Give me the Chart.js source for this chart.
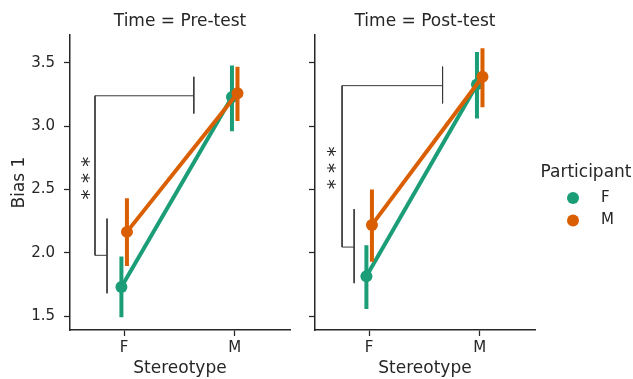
<!DOCTYPE html>
<html>
<head>
<meta charset="utf-8">
<script src="https://cdn.jsdelivr.net/npm/chart.js@4.4.1/dist/chart.umd.min.js"></script>
<style>
  html, body { margin: 0; padding: 0; background: #fff; }
  #wrap { position: relative; width: 633px; height: 379px; overflow: hidden; }
  canvas { position: absolute; top: 0; }
</style>
</head>
<body>
<div id="wrap">
  <canvas id="preChart" width="300" height="379" style="left:0"></canvas>
  <canvas id="postChart" width="333" height="379" style="left:300px"></canvas>
</div>
<script>
// categories
const stereotypes = ["F", "M"];
const participants = ["F", "M"];
const yTicks = [1.5, 2.0, 2.5, 3.0, 3.5];
const panelTitles = ["Time = Pre-test", "Time = Post-test"];

// pre-test, participant F / M (mean and CI per stereotype)
const preMeanF = [1.73, 3.23];
const preLoF = [1.49, 2.96];
const preHiF = [1.97, 3.48];
const preMeanM = [2.165, 3.26];
const preLoM = [1.895, 3.04];
const preHiM = [2.43, 3.47];

// post-test
const postMeanF = [1.815, 3.33];
const postLoF = [1.555, 3.06];
const postHiF = [2.06, 3.585];
const postMeanM = [2.22, 3.39];
const postLoM = [1.93, 3.15];
const postHiM = [2.50, 3.615];

// significance brackets (data coords), null = break
const preBracket = [[0.63, 3.39], [0.63, 3.10], [0.63, null], [0.63, 3.24], [-0.264, 3.24], [-0.264, 1.98], [-0.155, 1.98], [-0.155, null], [-0.155, 2.27], [-0.155, 1.68]];
const postBracket = [[0.664, 3.47], [0.664, 3.18], [0.664, null], [0.664, 3.32], [-0.245, 3.32], [-0.245, 2.045], [-0.136, 2.045], [-0.136, null], [-0.136, 2.345], [-0.136, 1.76]];
const preStars = [-0.31, 2.59];
const postStars = [-0.30, 2.67];

const colors = ["#1b9e77", "#d95f02"];
const dodge = [-0.025, 0.025];
const ink = "#262626";

Chart.defaults.font.family = "'DejaVu Sans', sans-serif";
Chart.defaults.color = ink;

function pointSeries(i, mean, lo, hi) {
    const xs = stereotypes.map((_, k) => k + dodge[i]);
    const bars = [];
    xs.forEach((x, k) => {
        bars.push({ x, y: lo[k] }, { x, y: hi[k] }, { x, y: null });
    });
    const base = (participants.length - i) * 2;
    return [
        {
            label: participants[i],
            data: xs.map((x, k) => ({ x, y: mean[k] })),
            borderColor: colors[i],
            backgroundColor: colors[i],
            pointBackgroundColor: colors[i],
            borderWidth: 4,
            pointRadius: 6,
            pointBorderWidth: 0,
            order: base - 1
        },
        {
            label: participants[i] + " ci",
            data: bars,
            borderColor: colors[i],
            borderWidth: 4,
            borderCapStyle: "butt",
            pointRadius: 0,
            spanGaps: false,
            order: base
        }
    ];
}

const starsPlugin = {
    id: "stars",
    afterDatasetsDraw(chart, args, opts) {
        const { ctx, scales } = chart;
        const px = scales.x.getPixelForValue(opts.pos[0]);
        const py = scales.y.getPixelForValue(opts.pos[1]);
        ctx.save();
        ctx.translate(px, py);
        ctx.rotate(-Math.PI / 2);
        ctx.fillStyle = ink;
        ctx.font = "20px 'DejaVu Sans'";
        ctx.textAlign = "center";
        ctx.textBaseline = "middle";
        ctx.fillText("* * *", 0, 0);
        ctx.restore();
    }
};

const legendPlugin = {
    id: "sideLegend",
    afterDraw(chart, args, opts) {
        if (!opts.show) return;
        const { ctx } = chart;
        ctx.save();
        ctx.fillStyle = ink;
        ctx.font = "17px 'DejaVu Sans'";
        ctx.textAlign = "center";
        ctx.textBaseline = "middle";
        ctx.fillText("Participant", 286, 173);
        participants.forEach((p, i) => {
            const y = 198 + i * 22.5;
            ctx.beginPath();
            ctx.arc(273, y, 6, 0, Math.PI * 2);
            ctx.fillStyle = colors[i];
            ctx.fill();
            ctx.fillStyle = ink;
            ctx.textAlign = "left";
            ctx.font = "15px 'DejaVu Sans'";
            ctx.fillText(p, 301, y);
        });
        ctx.restore();
    }
};

function makeChart(id, idx, series, bracket, stars, first) {
    const datasets = [];
    series.forEach((s, i) => datasets.push(...pointSeries(i, s[0], s[1], s[2])));
    datasets.push({
        label: "bracket",
        data: bracket.map(p => ({ x: p[0], y: p[1] })),
        borderColor: "#3a3a3a",
        borderWidth: 1,
        pointRadius: 0,
        spanGaps: false,
        order: 10
    });

    return new Chart(document.getElementById(id), {
        type: "line",
        data: { datasets },
        plugins: [starsPlugin, legendPlugin],
        options: {
            responsive: false,
            animation: false,
            events: [],
            layout: { padding: { top: 0, left: 0, right: first ? 10 : 98, bottom: 0 } },
            plugins: {
                legend: { display: false },
                tooltip: { enabled: false },
                title: {
                    display: true,
                    text: panelTitles[idx],
                    fullSize: false,
                    color: ink,
                    font: { size: 17, weight: "normal" },
                    padding: { top: 11, bottom: 3.6 }
                },
                stars: { pos: stars },
                sideLegend: { show: !first }
            },
            scales: {
                x: {
                    type: "linear",
                    min: -0.49,
                    max: 1.5,
                    afterBuildTicks: s => { s.ticks = stereotypes.map((_, k) => ({ value: k })); },
                    afterFit: s => { s.height = 49; },
                    ticks: {
                        callback: v => stereotypes[v],
                        font: { size: 15 },
                        color: ink,
                        padding: 3,
                        maxRotation: 0
                    },
                    grid: { drawOnChartArea: false, drawTicks: true, tickLength: 6, tickColor: ink, tickWidth: 1.25 },
                    border: { display: true, color: ink, width: 1.5 },
                    title: { display: true, text: "Stereotype", color: ink, font: { size: 17 }, padding: { top: 0, bottom: 0 } }
                },
                y: {
                    type: "linear",
                    min: 1.39,
                    max: 3.72,
                    afterBuildTicks: s => { s.ticks = yTicks.map(v => ({ value: v })); },
                    afterFit: s => { s.width = first ? 70 : 15; },
                    ticks: {
                        display: first,
                        callback: v => v.toFixed(1),
                        font: { size: 15 },
                        color: ink,
                        padding: 9
                    },
                    grid: { drawOnChartArea: false, drawTicks: true, tickLength: 6, tickColor: ink, tickWidth: 1.25 },
                    border: { display: true, color: ink, width: 1.5 },
                    title: { display: first, text: "Bias 1", color: ink, font: { size: 17 }, padding: { top: 9, bottom: 0 } }
                }
            }
        }
    });
}

makeChart("preChart", 0,
    [[preMeanF, preLoF, preHiF], [preMeanM, preLoM, preHiM]],
    preBracket, preStars, true);
makeChart("postChart", 1,
    [[postMeanF, postLoF, postHiF], [postMeanM, postLoM, postHiM]],
    postBracket, postStars, false);
</script>
</body>
</html>
